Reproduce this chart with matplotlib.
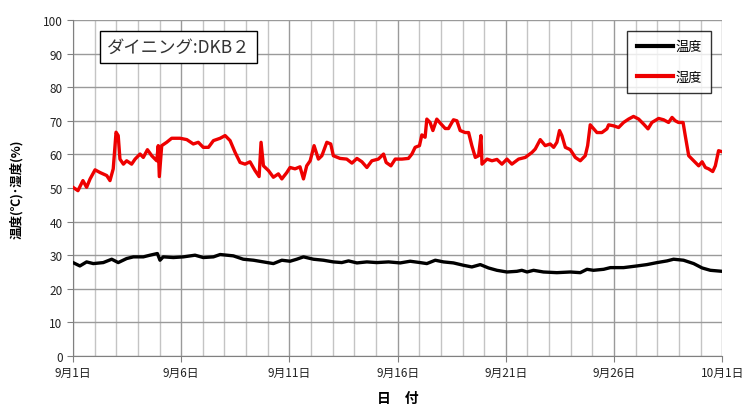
import numpy as np
import matplotlib
matplotlib.use("Agg")
import matplotlib.pyplot as plt
from matplotlib.ticker import MultipleLocator

plt.rcParams['font.family'] = ['Noto Sans CJK JP', 'DejaVu Sans']

# days since 9/1 and readings
hum_day = [0.0, 0.23, 0.46, 0.63, 0.79, 1.02, 1.25, 1.56, 1.71, 1.86, 1.99, 2.09, 2.17, 2.33,
           2.48, 2.71, 2.87, 3.10, 3.25, 3.44, 3.64, 3.87, 3.94, 3.99, 4.10, 4.33, 4.56, 4.95,
           5.26, 5.56, 5.79, 6.02, 6.26, 6.49, 6.80, 7.03, 7.26, 7.49, 7.72, 7.95, 8.18, 8.41,
           8.60, 8.69, 8.80, 9.03, 9.26, 9.49, 9.65, 9.88, 10.03, 10.26, 10.49, 10.65, 10.80,
           10.96, 11.14, 11.34, 11.50, 11.73, 11.91, 12.03, 12.34, 12.65, 12.89, 13.12, 13.35,
           13.58, 13.81, 14.11, 14.35, 14.47, 14.69, 14.89, 15.20, 15.50, 15.66, 15.81, 16.01,
           16.12, 16.27, 16.35, 16.50, 16.63, 16.81, 16.97, 17.20, 17.35, 17.58, 17.74, 17.89,
           18.12, 18.28, 18.43, 18.59, 18.74, 18.85, 18.90, 19.13, 19.36, 19.59, 19.82, 20.05,
           20.28, 20.59, 20.90, 21.21, 21.36, 21.59, 21.82, 22.05, 22.21, 22.36, 22.48, 22.59,
           22.75, 22.98, 23.21, 23.44, 23.67, 23.78, 23.90, 24.05, 24.21, 24.44, 24.67, 24.75,
           24.98, 25.21, 25.44, 25.67, 25.90, 26.14, 26.37, 26.57, 26.75, 27.06, 27.29, 27.52,
           27.68, 27.83, 27.98, 28.19, 28.29, 28.45, 28.68, 28.91, 29.07, 29.22, 29.37, 29.56,
           29.68, 29.83, 29.99]
humidity = [50.2, 49.2, 52.2, 50.2, 52.7, 55.4, 54.6, 53.7, 52.2, 55.7, 66.6, 65.6, 58.6, 57.1,
            58.1, 57.1, 58.6, 60.1, 59.1, 61.4, 59.6, 58.1, 62.6, 53.4, 62.6, 63.6, 64.8, 64.8,
            64.4, 63.1, 63.6, 62.1, 62.1, 64.1, 64.8, 65.6, 64.1, 60.6, 57.6, 57.1, 57.8, 55.2,
            53.4, 63.6, 56.6, 55.2, 53.2, 54.2, 52.7, 54.6, 56.1, 55.7, 56.3, 52.7, 56.6,
            58.1, 62.6, 58.6, 59.6, 63.6, 63.1, 59.6, 58.8, 58.6, 57.4, 58.8, 57.8,
            56.1, 58.1, 58.6, 60.1, 57.6, 56.6, 58.6, 58.6, 58.8, 60.1, 62.1, 62.6,
            65.8, 65.1, 70.5, 69.5, 67.1, 70.5, 69.3, 67.7, 67.7, 70.3, 70.0, 67.1,
            66.5, 66.5, 62.6, 59.1, 59.6, 65.6, 57.1, 58.6, 58.1, 58.5, 57.1, 58.6,
            57.1, 58.6, 59.1, 60.6, 61.6, 64.4, 62.6, 63.1, 62.1, 63.6, 67.1, 65.6,
            62.1, 61.4, 59.1, 58.1, 59.6, 62.6, 68.8, 67.7, 66.5, 66.5, 67.6, 68.8,
            68.5, 68.0, 69.5, 70.5, 71.3, 70.5, 69.0, 67.6, 69.5, 70.7, 70.3, 69.5,
            71.0, 70.0, 69.5, 69.5, 65.6, 59.6, 58.1, 56.6, 57.8, 56.1, 55.7, 54.9,
            56.6, 61.1, 60.8]

temp_day = [0.0, 0.32, 0.63, 0.94, 1.40, 1.79, 2.09, 2.48, 2.79, 3.25, 3.56, 3.90, 4.02, 4.17,
            4.64, 5.10, 5.64, 6.02, 6.49, 6.80, 7.11, 7.41, 7.87, 8.34, 8.80, 9.26, 9.65, 10.03,
            10.34, 10.65, 11.11, 11.57, 12.03, 12.42, 12.73, 13.12, 13.58, 14.04, 14.58, 15.12,
            15.58, 16.04, 16.35, 16.74, 17.12, 17.58, 18.04, 18.43, 18.82, 19.20, 19.59, 20.05,
            20.51, 20.74, 20.98, 21.28, 21.74, 22.36, 22.98, 23.44, 23.75, 24.05, 24.52, 24.83,
            25.44, 26.06, 26.52, 26.99, 27.45, 27.75, 28.21, 28.68, 29.07, 29.45, 29.99]
temperature = [27.8, 26.8, 28.0, 27.5, 27.8, 28.8, 27.8, 29.0, 29.5, 29.5, 30.0, 30.5, 28.5, 29.5,
               29.3, 29.5, 30.0, 29.3, 29.5, 30.2, 30.0, 29.8, 28.8, 28.5, 28.0, 27.5, 28.5, 28.2,
               28.8, 29.5, 28.8, 28.5, 28.0, 27.8, 28.3, 27.7, 28.0, 27.8, 28.0, 27.7,
               28.2, 27.8, 27.5, 28.5, 28.0, 27.7, 27.0, 26.5, 27.2, 26.2, 25.5, 25.0,
               25.2, 25.5, 25.0, 25.5, 25.0, 24.8, 25.0, 24.8, 25.8, 25.5, 25.8, 26.3,
               26.3, 26.8, 27.2, 27.8, 28.3, 28.8, 28.5, 27.5, 26.2, 25.5, 25.2]

tick_days = [0, 5, 10, 15, 20, 25, 30]
tick_labels = ['9月1日', '9月6日', '9月11日', '9月16日', '9月21日', '9月26日', '10月1日']

fig = plt.figure(figsize=(7.5, 4.1), dpi=100)
ax = fig.add_axes([0.0973, 0.1293, 0.8657, 0.8195])

ax.plot(temp_day, temperature, color='black', lw=2.4, label='温度', zorder=3)
ax.plot(hum_day, humidity, color='#ee0000', lw=2.4, label='湿度', zorder=3)

ax.set_xlim(0, 30)
ax.set_ylim(0, 100)
ax.set_xticks(tick_days)
ax.set_xticklabels(tick_labels)
ax.xaxis.set_minor_locator(MultipleLocator(1))
ax.yaxis.set_major_locator(MultipleLocator(10))

ax.grid(which='major', axis='both', color='#9a9a9a', lw=1.0, zorder=1)
ax.grid(which='minor', axis='x', color='#c4c4c4', lw=1.0, zorder=1)
ax.tick_params(axis='both', which='major', labelsize=8.5, length=4, color='#808080',
               labelcolor='#222222', direction='out')
ax.tick_params(axis='x', which='minor', length=0)
ax.tick_params(axis='x', pad=3)

for s in ['top', 'right']:
    ax.spines[s].set_visible(False)
for s in ['left', 'bottom']:
    ax.spines[s].set_color('#808080')

ax.set_ylabel('温度(℃)･湿度(%)', fontsize=9, fontweight='bold', labelpad=14)
ax.set_xlabel('日　付', fontsize=10, fontweight='bold', labelpad=9)

ax.text(0.052, 0.92, 'ダイニング:DKB２', transform=ax.transAxes, fontsize=12.5, color='#333333',
        va='center', ha='left',
        bbox=dict(boxstyle='square,pad=0.4', facecolor='white', edgecolor='black', lw=1))

leg = ax.legend(loc='upper right', bbox_to_anchor=(0.983, 0.967), fontsize=9.5, frameon=True,
                fancybox=False, handlelength=2.8, handletextpad=0.15, borderpad=0.7,
                labelspacing=1.3, borderaxespad=0)
leg.get_frame().set_edgecolor('black')
leg.get_frame().set_linewidth(1)
for line in leg.get_lines():
    line.set_linewidth(3)

fig.savefig('out.png', dpi=100, facecolor='white')
